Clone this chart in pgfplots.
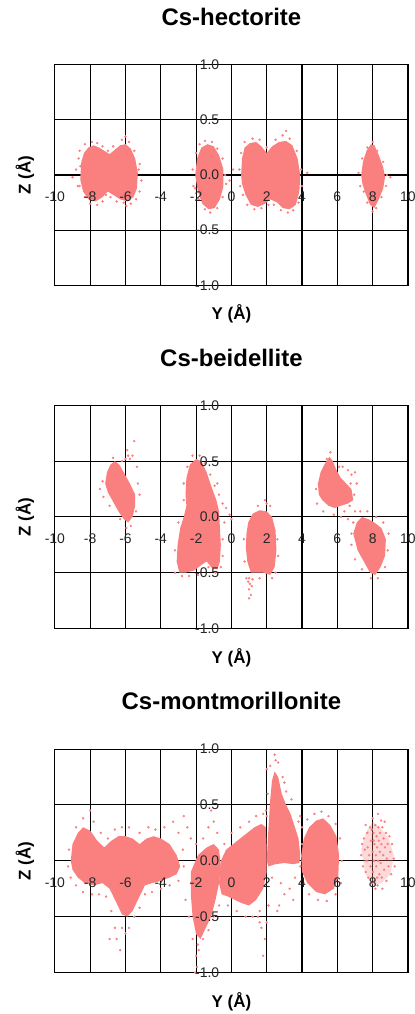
\documentclass[border=0pt]{standalone}
\usepackage{fontspec}
\setmainfont{Liberation Sans}
\usepackage{pgfplots}
\pgfplotsset{compat=1.18}
\definecolor{pk}{RGB}{250,128,128}
\newcommand\tickfont{\fontsize{14bp}{14bp}\selectfont}
\pgfplotsset{
  layers/toplabels/.define layer set={axis background,axis grid,axis ticks,axis lines,pre main,main,axis tick labels,axis descriptions,axis foreground}{
    grid style={/pgfplots/on layer=axis grid},
    tick style={/pgfplots/on layer=axis ticks},
    axis line style={/pgfplots/on layer=axis lines},
    label style={/pgfplots/on layer=axis descriptions},
    legend style={/pgfplots/on layer=axis descriptions},
    title style={/pgfplots/on layer=axis descriptions},
    colorbar style={/pgfplots/on layer=axis descriptions},
    ticklabel style={/pgfplots/on layer=axis tick labels},
    axis background@ style={/pgfplots/on layer=axis background},
    3d box foreground style={/pgfplots/on layer=axis foreground},
  },
  panel/.style={
    set layers=toplabels,
    scale only axis, width=354bp,
    xmin=-10,xmax=10,ymin=-1,ymax=1,
    xtick={-10,-8,-6,-4,-2,0,2,4,6,8,10}, ytick={-1,-0.5,0,0.5,1},
    xticklabels={-10,-8,-6,-4,-2,0,2,4,6,8,\makebox[0pt][c]{10}},
    yticklabels={-1.0,-0.5,0.0,0.5,1.0},
    grid=major, major grid style={black, line width=1.1bp},
    axis line style={black, line width=1.1bp},
    tick style={draw=none},
    ticklabel style={font=\tickfont, text=black!85},
    xticklabel style={anchor=center, inner sep=0pt, yshift=#1},
    yticklabel style={anchor=east, inner sep=0pt, xshift=165bp},
    title style={at={(axis description cs:0.5,1)}, anchor=center, yshift=42bp, font=\fontsize{24bp}{28bp}\selectfont\bfseries},
    xlabel style={at={(axis description cs:0.5,0)}, anchor=center, yshift=-29bp, font=\fontsize{17bp}{20bp}\selectfont\bfseries},
    ylabel style={at={(axis description cs:0,0.5)}, anchor=center, yshift=30bp, font=\fontsize{17bp}{20bp}\selectfont\bfseries},
    xlabel={Y (Å)}, ylabel={Z (Å)},
  },
  core/.style={fill=pk, draw=none},
  dots/.style={color=pk, only marks, mark=*, mark size=1bp, mark options={draw=none, fill=pk}},
}
\begin{document}
\begin{tikzpicture}
\path (0bp,0bp) rectangle (416bp,1014bp);
% ---------------- Cs-hectorite
\begin{axis}[panel=88.5bp, height=221bp, at={(55bp,949bp)}, anchor=north west, title={Cs-hectorite}]
\addplot[core] coordinates {(-8.55,0.0) (-8.5,0.12) (-8.35,0.2) (-8.1,0.25) (-7.8,0.27) (-7.5,0.25) (-7.2,0.22) (-6.9,0.19) (-6.6,0.23) (-6.3,0.27) (-6.0,0.28) (-5.7,0.24) (-5.45,0.15) (-5.3,0.02) (-5.35,-0.12) (-5.55,-0.2) (-5.9,-0.24) (-6.3,-0.22) (-6.7,-0.18) (-7.0,-0.15) (-7.3,-0.2) (-7.7,-0.24) (-8.1,-0.22) (-8.4,-0.15) (-8.55,-0.05)} -- cycle;
\addplot[core] coordinates {(-2.05,0.0) (-1.95,0.15) (-1.7,0.25) (-1.35,0.28) (-1.0,0.26) (-0.7,0.18) (-0.45,0.05) (-0.45,-0.1) (-0.65,-0.22) (-0.95,-0.3) (-1.3,-0.31) (-1.65,-0.26) (-1.9,-0.15)} -- cycle;
\addplot[core] coordinates {(0.55,0.0) (0.6,0.15) (0.75,0.25) (1.05,0.29) (1.4,0.3) (1.7,0.26) (2.0,0.2) (2.3,0.26) (2.7,0.3) (3.1,0.31) (3.45,0.27) (3.75,0.15) (3.9,0.0) (3.85,-0.15) (3.65,-0.27) (3.3,-0.31) (2.9,-0.3) (2.6,-0.25) (2.2,-0.22) (1.9,-0.26) (1.5,-0.29) (1.1,-0.27) (0.8,-0.18) (0.6,-0.08)} -- cycle;
\addplot[core] coordinates {(7.35,0.0) (7.45,0.12) (7.65,0.22) (7.9,0.28) (8.1,0.27) (8.35,0.18) (8.6,0.07) (8.7,-0.02) (8.6,-0.12) (8.35,-0.22) (8.1,-0.3) (7.85,-0.27) (7.6,-0.17) (7.42,-0.08)} -- cycle;
\addplot[dots] coordinates {
(-8.8,0.05) (-9.0,-0.02) (-8.7,-0.1) (-8.65,0.15) (-8.6,0.22) (-8.3,0.28) (-7.9,0.3) (-7.6,0.29) (-7.3,0.26) (-7.0,0.22) (-6.7,0.26) (-6.2,0.32) (-6.0,0.35) (-5.8,0.3) (-5.5,0.22) (-5.2,0.1) (-5.1,-0.05) (-5.2,-0.15) (-5.4,-0.22) (-5.7,-0.26) (-5.95,-0.28) (-6.1,-0.25) (-6.5,-0.24) (-6.85,-0.2) (-7.3,-0.24) (-7.6,-0.27) (-8.0,-0.26) (-8.3,-0.2) (-8.6,-0.1) (-7.1,-0.18) (-5.25,0.05) (-8.55,0.08)
(-2.2,0.05) (-2.15,-0.1) (-2.0,0.2) (-1.8,0.28) (-1.5,0.31) (-1.1,0.3) (-0.8,0.24) (-0.5,0.15) (-0.35,0.0) (-0.3,-0.08) (-0.5,-0.2) (-0.8,-0.3) (-1.2,-0.34) (-1.5,-0.31) (-1.85,-0.22) (-2.05,-0.12) (0.1,0.05) (-0.1,-0.05)
(0.45,0.05) (0.5,-0.1) (0.55,0.2) (0.75,0.3) (1.2,0.33) (1.6,0.32) (2.0,0.25) (2.5,0.32) (2.9,0.36) (3.1,0.4) (3.3,0.33) (3.7,0.22) (3.95,0.05) (4.0,-0.1) (3.8,-0.25) (3.5,-0.32) (3.2,-0.34) (2.8,-0.32) (2.4,-0.27) (2.1,-0.27) (1.7,-0.3) (1.3,-0.31) (0.9,-0.27) (0.65,-0.18) (4.3,0.02)
(7.2,0.02) (7.3,-0.1) (7.4,0.15) (7.7,0.25) (8.0,0.3) (8.25,0.22) (8.6,0.12) (8.8,0.0) (9.0,-0.02) (8.75,-0.1) (8.5,-0.2) (8.2,-0.3) (8.0,-0.33) (7.7,-0.25) (7.5,-0.15)
};
\end{axis}
% ---------------- Cs-beidellite
\begin{axis}[panel=89.75bp, height=223.5bp, at={(55bp,607.5bp)}, anchor=north west, title={Cs-beidellite}]
\addplot[core] coordinates {(-7.15,0.3) (-7.05,0.4) (-6.85,0.47) (-6.6,0.5) (-6.35,0.47) (-6.1,0.4) (-5.75,0.3) (-5.45,0.2) (-5.45,0.1) (-5.6,0.0) (-5.85,-0.05) (-6.1,-0.02) (-6.4,0.05) (-6.75,0.15) (-7.0,0.22)} -- cycle;
\addplot[core] coordinates {(-2.0,0.52) (-1.7,0.5) (-1.4,0.4) (-1.15,0.28) (-0.85,0.15) (-0.7,0.05) (-0.65,-0.1) (-0.6,-0.25) (-0.65,-0.4) (-0.8,-0.47) (-1.1,-0.46) (-1.4,-0.4) (-1.7,-0.43) (-2.1,-0.48) (-2.6,-0.5) (-2.95,-0.5) (-3.1,-0.4) (-3.05,-0.25) (-2.9,-0.1) (-2.7,0.0) (-2.55,0.1) (-2.6,0.2) (-2.55,0.35) (-2.35,0.47)} -- cycle;
\addplot[core] coordinates {(0.85,-0.15) (0.95,-0.05) (1.2,0.03) (1.6,0.06) (2.0,0.05) (2.3,0.0) (2.5,-0.12) (2.55,-0.3) (2.45,-0.45) (2.2,-0.52) (1.8,-0.5) (1.4,-0.5) (1.1,-0.5) (0.9,-0.4) (0.82,-0.28)} -- cycle;
\addplot[core] coordinates {(4.9,0.3) (5.05,0.4) (5.3,0.48) (5.55,0.54) (5.75,0.5) (5.95,0.42) (6.2,0.35) (6.5,0.3) (6.8,0.25) (6.9,0.15) (6.6,0.12) (6.2,0.1) (5.85,0.08) (5.5,0.1) (5.15,0.15) (4.95,0.2)} -- cycle;
\addplot[core] coordinates {(6.9,-0.15) (7.1,-0.05) (7.4,0.0) (7.75,-0.02) (8.1,-0.05) (8.5,-0.1) (8.75,-0.2) (8.7,-0.35) (8.45,-0.45) (8.15,-0.52) (7.85,-0.5) (7.5,-0.4) (7.15,-0.3)} -- cycle;
\addplot[dots] coordinates {
(-5.5,0.68) (-5.6,0.55) (-5.85,0.55) (-5.75,0.52) (-5.35,0.45) (-6.0,0.52) (-6.7,0.53) (-7.3,0.32) (-7.45,0.25) (-7.25,0.18) (-5.95,-0.1) (-5.7,-0.08) (-5.3,0.3) (-5.4,0.05) (-6.3,-0.02) (-6.9,0.1) (-5.2,0.2) (-6.2,0.5) (-5.9,0.6)
(-2.2,0.55) (-1.8,0.55) (-1.5,0.48) (-1.2,0.38) (-0.95,0.28) (-0.7,0.2) (-0.5,0.12) (-0.3,0.08) (-0.1,0.02) (0.0,-0.02) (-0.4,-0.05) (-0.5,-0.2) (-0.5,-0.35) (-0.6,-0.45) (-0.9,-0.5) (-1.3,-0.45) (-1.9,-0.52) (-2.4,-0.53) (-2.8,-0.53) (-3.2,-0.5) (-3.2,-0.3) (-3.0,-0.05) (-2.7,0.15) (-2.7,0.3) (-2.5,0.45) (-2.3,0.08) (-0.8,0.3)
(1.0,-0.55) (1.05,-0.6) (1.0,-0.65) (1.1,-0.7) (1.0,-0.73) (0.95,-0.58) (1.15,-0.62) (0.85,-0.55) (1.2,-0.56) (2.0,0.12) (1.9,0.15) (2.2,0.1) (1.5,0.1) (2.6,-0.2) (2.65,-0.35) (2.5,-0.5) (0.7,-0.2) (0.75,-0.4) (1.6,-0.55) (2.3,-0.55)
(7.0,0.4) (6.8,0.38) (6.6,0.42) (6.3,0.45) (4.85,0.12) (4.8,0.25) (7.1,0.3) (6.95,0.2) (6.7,0.1) (6.4,0.05) (6.2,0.0) (6.6,-0.02) (6.9,-0.05) (7.2,-0.1) (6.8,-0.15) (7.0,0.05) (5.6,0.58) (5.4,0.52) (6.1,0.45) (5.2,0.05) (5.8,0.02) (6.5,0.2) (6.75,0.3)
(8.9,-0.15) (8.85,-0.3) (8.7,-0.45) (8.3,-0.55) (7.9,-0.55) (7.4,-0.47) (7.0,-0.38) (6.8,-0.25) (7.7,0.05) (8.2,0.0) (8.6,-0.05) (7.3,0.05)
};
\end{axis}
% ---------------- Cs-montmorillonite
\begin{axis}[panel=90bp, height=224bp, at={(55bp,263bp)}, anchor=north west, title={Cs-montmorillonite}]
\addplot[core] coordinates {(-9.1,0.0) (-9.0,0.15) (-8.7,0.25) (-8.4,0.3) (-8.0,0.27) (-7.6,0.18) (-7.2,0.12) (-6.8,0.18) (-6.4,0.22) (-6.0,0.22) (-5.6,0.2) (-5.2,0.15) (-4.8,0.2) (-4.4,0.22) (-4.0,0.2) (-3.5,0.15) (-3.1,0.05) (-2.9,-0.05) (-3.1,-0.12) (-3.5,-0.15) (-4.0,-0.18) (-4.5,-0.2) (-4.9,-0.22) (-5.3,-0.35) (-5.6,-0.45) (-5.9,-0.5) (-6.2,-0.48) (-6.5,-0.38) (-6.9,-0.25) (-7.3,-0.2) (-7.8,-0.22) (-8.3,-0.2) (-8.7,-0.15) (-9.0,-0.08)} -- cycle;
\addplot[core] coordinates {(-2.3,-0.1) (-1.9,0.05) (-1.4,0.12) (-1.0,0.15) (-0.7,0.1) (-0.6,-0.05) (-0.7,-0.2) (-0.9,-0.35) (-1.15,-0.5) (-1.45,-0.6) (-1.75,-0.7) (-2.0,-0.66) (-2.2,-0.5) (-2.3,-0.3)} -- cycle;
\addplot[core] coordinates {(-0.7,-0.2) (-0.6,0.0) (-0.3,0.1) (0.1,0.15) (0.5,0.2) (0.9,0.25) (1.3,0.3) (1.7,0.33) (1.95,0.3) (2.0,0.1) (2.0,-0.1) (1.8,-0.25) (1.4,-0.35) (1.0,-0.4) (0.6,-0.38) (0.2,-0.35) (-0.2,-0.32) (-0.55,-0.3)} -- cycle;
\addplot[core] coordinates {(2.0,0.0) (2.1,0.3) (2.2,0.55) (2.3,0.72) (2.45,0.8) (2.65,0.75) (2.85,0.6) (3.1,0.5) (3.35,0.42) (3.6,0.3) (3.8,0.2) (3.9,0.05) (3.85,-0.02) (3.5,-0.03) (3.0,-0.02) (2.5,-0.03) (2.1,-0.05)} -- cycle;
\addplot[core] coordinates {(3.95,0.05) (4.1,0.2) (4.4,0.3) (4.8,0.36) (5.2,0.38) (5.6,0.32) (5.95,0.22) (6.1,0.05) (6.05,-0.15) (5.8,-0.25) (5.3,-0.3) (4.8,-0.28) (4.3,-0.2) (4.0,-0.1)} -- cycle;
\addplot[core, fill opacity=0.3] coordinates {(7.35,0.1) (7.6,0.25) (8.0,0.35) (8.4,0.3) (8.9,0.2) (9.2,0.05) (9.0,-0.12) (8.5,-0.2) (8.0,-0.22) (7.6,-0.12)} -- cycle;
\addplot[dots] coordinates {
(-8.0,0.45) (-8.4,0.38) (-8.8,0.3) (-9.2,0.1) (-9.25,-0.05) (-9.1,-0.15) (-8.8,-0.22) (-8.4,-0.28) (-7.9,-0.3) (-7.5,-0.3) (-7.1,-0.32) (-6.8,-0.45) (-6.6,-0.6) (-6.5,-0.7) (-6.3,-0.8) (-6.0,-0.65) (-5.8,-0.6) (-6.2,-0.6) (-5.5,-0.5) (-5.2,-0.42) (-4.9,-0.3) (-4.5,-0.28) (-4.0,-0.25) (-3.5,-0.22) (-3.0,-0.18) (-2.7,-0.05) (-2.75,0.1) (-3.3,0.35) (-2.7,0.4) (-2.5,0.3) (-2.3,0.2) (-3.0,0.25) (-3.8,0.3) (-4.3,0.28) (-4.7,0.3) (-5.2,0.25) (-5.8,0.3) (-6.2,0.3) (-6.6,0.28) (-7.0,0.2) (-7.4,0.25) (-7.8,0.35) (-6.9,-0.7)
(-1.9,-0.75) (-2.0,-0.85) (-1.95,-0.95) (-2.05,-1.0) (-1.85,-0.8) (-2.2,-0.7) (-2.4,-0.5) (-2.6,-0.35) (-2.3,-0.2) (-1.6,-0.7) (-1.3,-0.62) (-1.0,-0.5) (-0.7,-0.4) (-1.0,0.35) (-1.3,0.3) (-1.6,0.2) (-2.0,0.15) (-0.8,0.25) (-1.15,0.45)
(1.5,-0.5) (1.6,-0.55) (1.7,-0.6) (1.9,-0.7) (1.6,-0.45) (1.2,-0.5) (2.1,-0.4) (1.8,-0.85) (2.0,-0.55) (0.8,-0.5) (0.3,-0.45) (-0.2,-0.4) (0.0,0.25) (0.5,0.3) (1.0,0.35) (1.4,0.4) (1.8,0.42) (2.0,0.4) (-0.4,0.15)
(2.45,0.95) (2.5,0.9) (2.2,0.85) (2.65,0.88) (2.0,0.82) (3.0,0.7) (2.8,-0.2) (2.6,-0.45) (2.7,-0.4) (3.0,-0.3) (3.3,-0.25) (3.6,-0.15) (3.9,0.4) (3.8,0.35) (3.4,0.55) (3.1,0.62) (2.9,0.75) (2.05,0.6) (1.95,0.45) (4.0,0.15) (2.3,-0.15) (3.5,-0.35)
(4.0,0.3) (4.3,0.37) (4.7,0.42) (5.1,0.44) (5.5,0.4) (5.9,0.33) (6.15,0.2) (6.25,0.0) (6.2,-0.2) (5.9,-0.3) (5.4,-0.36) (4.9,-0.35) (4.4,-0.3) (4.1,-0.2) (3.9,-0.05)
(7.35,0.05) (7.4,0.15) (7.45,-0.05) (7.5,0.2) (7.55,0.1) (7.6,-0.1) (7.65,0.0) (7.7,0.25) (7.72,0.12) (7.75,-0.15) (7.8,0.05) (7.85,0.3) (7.88,-0.05) (7.9,0.18) (7.95,-0.2) (8.0,0.08) (8.0,0.38) (8.02,-0.1) (8.05,0.25) (8.08,0.0) (8.1,0.15) (8.12,-0.18) (8.15,0.32) (8.18,0.05) (8.2,-0.05) (8.22,0.22) (8.25,0.12) (8.28,-0.22) (8.3,0.0) (8.32,0.3) (8.35,0.18) (8.38,-0.12) (8.4,0.08) (8.42,0.25) (8.45,-0.02) (8.5,0.15) (8.52,-0.15) (8.55,0.3) (8.6,0.05) (8.62,0.2) (8.65,-0.08) (8.7,0.12) (8.75,0.25) (8.78,-0.18) (8.8,0.02) (8.85,0.15) (8.9,-0.05) (8.95,0.22) (9.0,0.08) (9.05,-0.12) (9.1,0.15) (9.2,0.02) (9.25,-0.05) (8.3,0.42) (7.95,0.28) (8.48,0.36) (7.6,0.32) (8.15,-0.25) (8.55,-0.25) (8.05,0.18) (8.25,-0.15) (8.68,0.35)
};
\end{axis}
\end{tikzpicture}
\end{document}
